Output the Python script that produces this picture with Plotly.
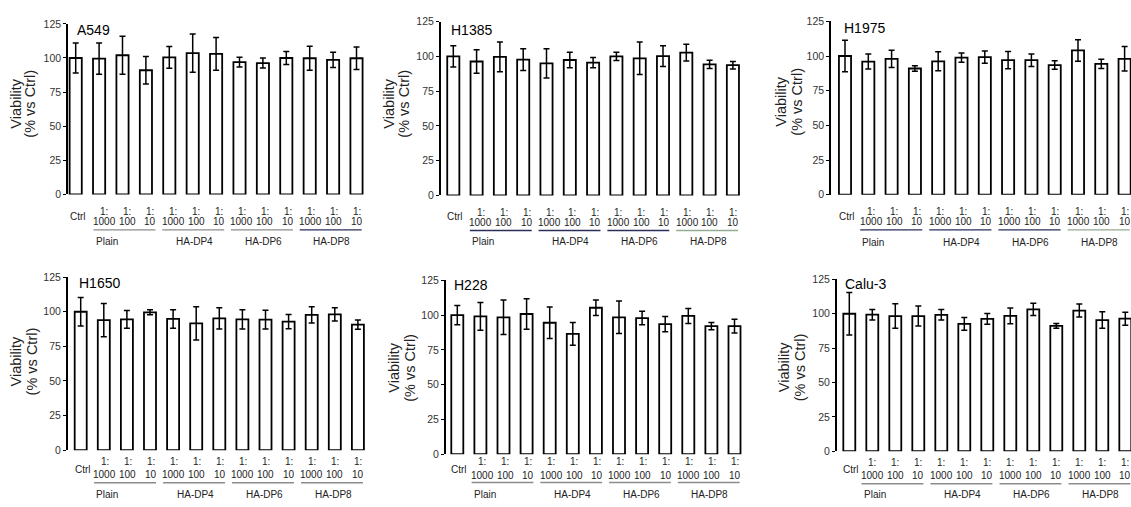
import plotly.graph_objects as go

W, H = 1131, 507

# ---------------- data ----------------
categories = ["Ctrl", "1:1000", "1:100", "1:10", "1:1000", "1:100", "1:10",
              "1:1000", "1:100", "1:10", "1:1000", "1:100", "1:10"]
label_top = ["", "1:", "1:", "1:", "1:", "1:", "1:", "1:", "1:", "1:", "1:", "1:", "1:"]
label_bottom = ["Ctrl", "1000", "100", "10", "1000", "100", "10",
                "1000", "100", "10", "1000", "100", "10"]
groups = ["Plain", "HA-DP4", "HA-DP6", "HA-DP8"]
group_members = [[1, 2, 3], [4, 5, 6], [7, 8, 9], [10, 11, 12]]
y_ticks = [0, 25, 50, 75, 100, 125]
cell_lines = ["A549", "H1385", "H1975", "H1650", "H228", "Calu-3"]

a549_mean = [100, 99.5, 102, 91, 100.5, 103.5, 103, 97, 96.3, 100, 99.8, 98.6, 99.8]
a549_sd = [11, 11.5, 14, 10, 8, 14, 12, 3.6, 3.7, 4.8, 8.8, 5.6, 8.2]

h1385_mean = [100, 96.3, 99.6, 97.6, 95, 97.4, 95.5, 100, 98.6, 100.2, 102.7, 94.3, 93.7]
h1385_sd = [7.6, 8.5, 10.7, 7.8, 10.5, 5.5, 3.7, 3.0, 11.7, 7.5, 6.0, 3.0, 2.7]

h1975_mean = [100, 96, 98, 91, 96.2, 98.8, 99.2, 97, 97, 93.5, 104, 94.3, 98]
h1975_sd = [11.3, 5.4, 6.2, 1.9, 6.8, 3.3, 4.5, 6.2, 4.5, 3.0, 7.7, 3.3, 8.8]

h1650_mean = [100, 94, 94.5, 99.6, 94.8, 91.6, 95.2, 94.5, 94.3, 92.9, 97.8, 98.1, 90.7]
h1650_sd = [10.3, 12, 6.4, 1.8, 6.7, 12, 7.7, 7.0, 6.7, 5.2, 5.9, 4.7, 3.3]

h228_mean = [100, 99.1, 98.4, 100.8, 94.5, 86.5, 105.3, 98.4, 97.9, 93.5, 99.4, 92.1, 92.1]
h228_sd = [7.0, 10, 12.4, 11, 11.3, 8.2, 5.5, 11.7, 4.9, 5.5, 5.4, 2.6, 4.9]

calu3_mean = [100, 99.3, 98.3, 98.3, 99.2, 92.6, 96.2, 98.5, 103.2, 91.2, 102.3, 95.4, 96.4]
calu3_sd = [15.4, 3.8, 8.9, 7.3, 3.8, 4.7, 3.9, 5.7, 4.5, 1.7, 4.7, 6.0, 4.7]

means = [a549_mean, h1385_mean, h1975_mean, h1650_mean, h228_mean, calu3_mean]
sds = [a549_sd, h1385_sd, h1975_sd, h1650_sd, h228_sd, calu3_sd]

# ---------------- panel geometry (pixels) ----------------
GRAY = "#8c8c8c"
NAVY = "#2a2e58"
GREEN = "#93aa93"
panels = [
    dict(ax=68.0, first=75.7, sp=23.4, y0=193.0, y125=18.3, shift=0.23,
         yc=210, yn=221, yctrl=215.5, yline=229.3, ygrp=241.5,
         title=(75, 25), ytitle=(16, 30, 100), lc=[GRAY, GRAY, GRAY, NAVY]),
    dict(ax=440.7, first=453.3, sp=23.3, y0=194.0, y125=16.0, shift=0.18,
         yc=211.5, yn=221.7, yctrl=216, yline=230, ygrp=241.7,
         title=(449, 25), ytitle=(389, 404, 100), lc=[NAVY, NAVY, NAVY, GREEN]),
    dict(ax=831.0, first=845.0, sp=23.3, y0=193.3, y125=15.7, shift=0.12,
         yc=210.7, yn=221, yctrl=216, yline=229.3, ygrp=242,
         title=(842, 23), ytitle=(781, 797, 98), lc=[NAVY, NAVY, NAVY, GREEN]),
    dict(ax=67.7, first=80.7, sp=23.1, y0=455.0, y125=277.7, shift=0.05,
         yc=467, yn=480, yctrl=474.3, yline=488.3, ygrp=500.7,
         title=(77, 283.5), ytitle=(16, 32, 364), lc=[GRAY, GRAY, GRAY, GRAY]),
    dict(ax=445.7, first=457.3, sp=23.1, y0=459.0, y125=281.0, shift=0.09,
         yc=467, yn=480.7, yctrl=475, yline=488, ygrp=500.5,
         title=(451.7, 286), ytitle=(394, 410, 370.5), lc=[GRAY, GRAY, GRAY, GRAY]),
    dict(ax=836.7, first=849.3, sp=23.0, y0=456.0, y125=280.0, shift=0.0,
         yc=467.3, yn=480.7, yctrl=475, yline=489.3, ygrp=500.7,
         title=(843.3, 285), ytitle=(784, 800, 370), lc=[GRAY, GRAY, GRAY, GRAY]),
]

FONT = "Arial, Liberation Sans, sans-serif"
LBL = 10

fig = go.Figure()
annotations = []
shapes = []
layout = {}


def py(p):
    return 1 - p / H


def px(p):
    return p / W


for k, (p, name, m, s) in enumerate(zip(panels, cell_lines, means, sds), start=1):
    xr = "x" if k == 1 else f"x{k}"
    yr = "y" if k == 1 else f"y{k}"
    xkey = "xaxis" if k == 1 else f"xaxis{k}"
    ykey = "yaxis" if k == 1 else f"yaxis{k}"

    a = -(p["first"] - p["ax"]) / p["sp"]
    right_px = min(p["ax"] + (12.45 - a) * p["sp"], W)
    b = a + (right_px - p["ax"]) / p["sp"]

    fig.add_trace(go.Bar(
        x=list(range(len(categories))), y=m,
        error_y=dict(type="data", array=s, visible=True, color="black",
                     thickness=1.5, width=3),
        marker=dict(color="white", line=dict(color="black", width=1.8)),
        width=0.52, xaxis=xr, yaxis=yr, showlegend=False,
        hovertext=categories,
    ))

    layout[xkey] = dict(domain=[px(p["ax"]), px(right_px)], range=[a, b],
                        anchor=yr, showline=False, showgrid=False, zeroline=False,
                        showticklabels=False, ticks="", fixedrange=True)
    layout[ykey] = dict(domain=[py(p["y0"]), py(p["y125"])], range=[0, 125],
                        anchor=xr, showline=True, linecolor="black", linewidth=1.5,
                        ticks="outside", ticklen=3, tickwidth=1.2, tickcolor="black",
                        tickvals=y_ticks, tickfont=dict(family=FONT, size=10.5, color="#333333"),
                        showgrid=False, zeroline=False, fixedrange=True)

    def lx(i):
        return i + p["shift"] * (12 - i) / 11 if i > 0 else i + 0.08

    # category labels
    for i in range(len(categories)):
        if label_top[i]:
            annotations.append(dict(x=lx(i), y=py(p["yc"]), xref=xr, yref="paper",
                                    text=label_top[i], showarrow=False,
                                    font=dict(family=FONT, size=LBL, color="#222"),
                                    xanchor="center", yanchor="middle"))
            annotations.append(dict(x=lx(i), y=py(p["yn"]), xref=xr, yref="paper",
                                    text=label_bottom[i], showarrow=False,
                                    font=dict(family=FONT, size=LBL, color="#222"),
                                    xanchor="center", yanchor="middle"))
        else:
            annotations.append(dict(x=lx(i), y=py(p["yctrl"]), xref=xr, yref="paper",
                                    text=label_bottom[i], showarrow=False,
                                    font=dict(family=FONT, size=LBL, color="#222"),
                                    xanchor="center", yanchor="middle"))

    # group lines & labels
    for gi, (g, mem) in enumerate(zip(groups, group_members)):
        x0 = lx(mem[0]) - 0.47
        x1 = lx(mem[-1]) + 0.22
        shapes.append(dict(type="line", xref=xr, yref="paper", x0=x0, x1=x1,
                           y0=py(p["yline"]), y1=py(p["yline"]),
                           line=dict(color=p["lc"][gi], width=1.4)))
        gx = lx(mem[0]) + 0.1 if gi == 0 else (x0 + x1) / 2 + 0.05
        annotations.append(dict(x=gx, y=py(p["ygrp"]), xref=xr, yref="paper",
                                text=g, showarrow=False,
                                font=dict(family=FONT, size=LBL, color="#222"),
                                xanchor="center", yanchor="middle"))

    # panel title
    annotations.append(dict(x=px(p["title"][0]), y=py(p["title"][1]), xref="paper", yref="paper",
                            text=name, showarrow=False,
                            font=dict(family=FONT, size=14, color="black"),
                            xanchor="left", yanchor="middle"))
    # y axis title (two lines)
    annotations.append(dict(x=px(p["ytitle"][0]), y=py(p["ytitle"][2]), xref="paper", yref="paper",
                            text="Viability", showarrow=False, textangle=-90,
                            font=dict(family=FONT, size=14.5, color="#222"),
                            xanchor="center", yanchor="middle"))
    annotations.append(dict(x=px(p["ytitle"][1]), y=py(p["ytitle"][2]), xref="paper", yref="paper",
                            text="(% vs Ctrl)", showarrow=False, textangle=-90,
                            font=dict(family=FONT, size=14.5, color="#222"),
                            xanchor="center", yanchor="middle"))

fig.update_layout(
    width=W, height=H, autosize=False,
    margin=dict(l=0, r=0, t=0, b=0),
    paper_bgcolor="white", plot_bgcolor="white",
    annotations=annotations, shapes=shapes,
    font=dict(family=FONT),
    **layout,
)

fig.write_html("out.html", config={"displayModeBar": False})
